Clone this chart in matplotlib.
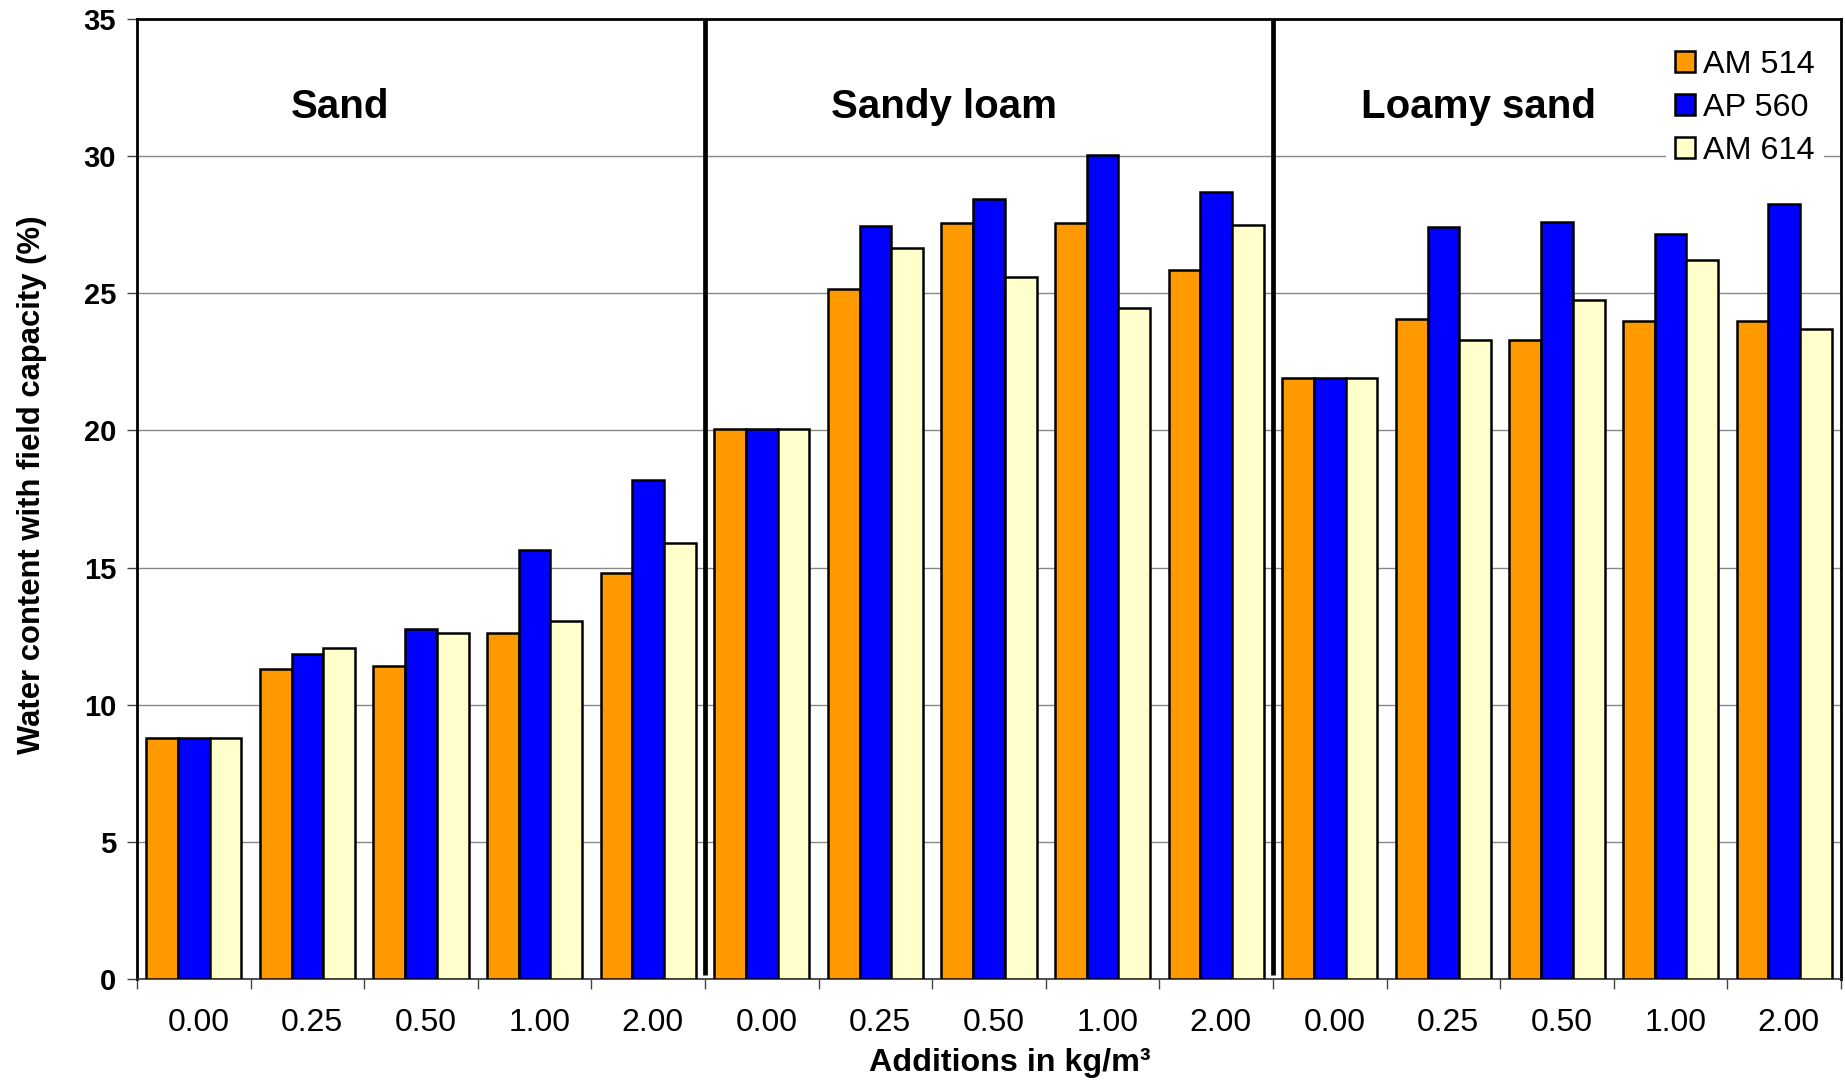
import numpy as np
import matplotlib
matplotlib.use("Agg")
import matplotlib.pyplot as plt
from matplotlib.patches import Patch

plt.rcParams['font.family'] = ['Liberation Sans', 'DejaVu Sans']

# Data: water content at field capacity (%) per soil and addition rate
soils = ["Sand", "Sandy loam", "Loamy sand"]
additions = ["0.00", "0.25", "0.50", "1.00", "2.00"]
series_names = ["AM 514", "AP 560", "AM 614"]

am514 = [8.8, 11.3, 11.4, 12.6, 14.8,
         20.05, 25.15, 27.55, 27.55, 25.85,
         21.9, 24.05, 23.3, 24.0, 24.0]
ap560 = [8.8, 11.85, 12.75, 15.65, 18.2,
         20.05, 27.45, 28.45, 30.05, 28.7,
         21.9, 27.4, 27.6, 27.15, 28.25]
am614 = [8.8, 12.05, 12.6, 13.05, 15.9,
         20.05, 26.65, 25.6, 24.45, 27.5,
         21.9, 23.3, 24.75, 26.2, 23.7]

colors = ["#FF9900", "#0000FF", "#FFFFCC"]

fig = plt.figure(figsize=(18.45, 10.87), dpi=100)
ax = fig.add_axes([137 / 1845, 1 - 979 / 1087, (1841 - 137) / 1845, (979 - 19) / 1087])

n = len(soils) * len(additions)
x = np.arange(n)
w = 0.279
for k, (vals, c, name) in enumerate(zip([am514, ap560, am614], colors, series_names)):
    ax.bar(x + (k - 1) * w, vals, width=w, color=c, edgecolor="black",
           linewidth=1.8, label=name, zorder=3)

ax.set_xlim(-0.5, n - 0.5)
ax.set_ylim(0, 35)

# y axis
ax.set_yticks(np.arange(0, 36, 5))
ax.tick_params(axis="y", which="major", length=7, width=1.0, color="#444444",
               labelsize=21, pad=8)
for t in ax.get_yticklabels():
    t.set_fontweight("bold")
ax.yaxis.grid(True, color="#888888", linewidth=1.0, zorder=0)
ax.set_axisbelow(True)

# x axis: ticks at group boundaries, labels centred under groups
ax.set_xticks(np.arange(-0.5, n, 1.0))
ax.set_xticklabels([""] * len(np.arange(-0.5, n, 1.0)))
ax.set_xticks(x + 0.04, minor=True)
ax.set_xticklabels(additions * len(soils), minor=True)
ax.tick_params(axis="x", which="major", length=7, width=1.0, color="#444444")
ax.tick_params(axis="x", which="minor", length=0, labelsize=23, pad=21)

for side in ["left", "top", "right"]:
    ax.spines[side].set_linewidth(2.0)
    ax.spines[side].set_color("black")
ax.spines["bottom"].set_linewidth(1.2)
ax.spines["bottom"].set_color("#333333")

# soil separators
for b in [len(additions) - 0.5, 2 * len(additions) - 0.5]:
    ax.plot([b, b], [0.15, 35], color="black", linewidth=3.4, zorder=5,
            solid_capstyle="butt")

# soil names
label_x = [1.29, 6.60, 11.31]
for s, lx in zip(soils, label_x):
    ax.text(lx, 31.8, s, ha="center", va="center", fontsize=29,
            fontweight="bold", zorder=6)

fig.text(32 / 1845, 1 - 485 / 1087, "Water content with field capacity (%)",
         rotation=90, ha="center", va="center", fontsize=22.3, fontweight="bold")
fig.text(1010 / 1845, 1 - 1063 / 1087, "Additions in kg/m³",
         ha="center", va="center", fontsize=23.2, fontweight="bold")

handles = [Patch(facecolor=c, edgecolor="black", linewidth=1.8) for c in colors]
leg = ax.legend(handles, series_names, loc="upper right",
                bbox_to_anchor=(1840 / 1845, 1 - 25 / 1087),
                bbox_transform=fig.transFigure,
                fontsize=23.3, frameon=True, fancybox=False,
                handlelength=0.62, handleheight=0.62, handletextpad=0.25,
                labelspacing=0.4, borderpad=0.28)
leg.get_frame().set_facecolor("white")
leg.get_frame().set_edgecolor("none")
leg.get_frame().set_alpha(1.0)
leg.set_zorder(4)

fig.savefig("out.png", dpi=100)
